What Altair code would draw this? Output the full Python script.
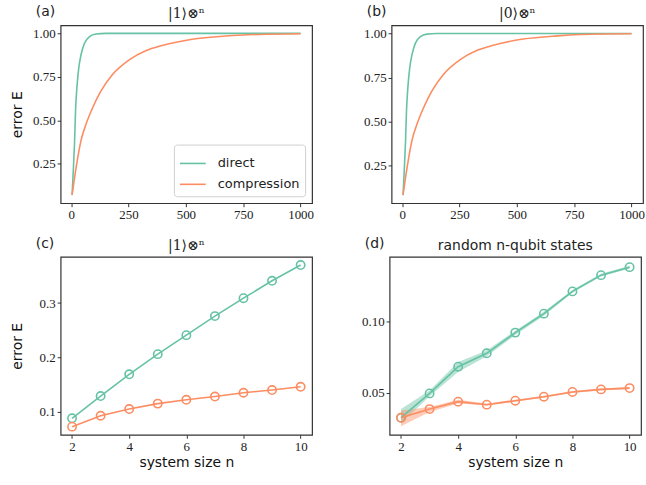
import altair as alt
import pandas as pd

GREEN = "#66c2a5"
ORANGE = "#fc8d62"

# Panel (a): |1>^n, full range
A_n_direct = [4, 10, 15, 19, 25, 33, 43, 58, 80, 108, 151, 1000]
A_E_direct = [0.07, 0.233, 0.385, 0.555, 0.688, 0.80, 0.877, 0.943, 0.981, 0.996, 1.0, 1.0]
A_n_comp = [4, 22, 43, 65, 94, 130, 180, 253, 325, 397, 527, 675, 819, 1000]
A_E_comp = [0.072, 0.233, 0.385, 0.479, 0.574, 0.669, 0.763, 0.848, 0.900, 0.930, 0.966, 0.985, 0.994, 0.998]

# Panel (b): |0>^n, full range
B_n_direct = [4, 10, 15, 19, 25, 33, 43, 58, 80, 108, 151, 1000]
B_E_direct = [0.084, 0.245, 0.395, 0.560, 0.693, 0.804, 0.880, 0.945, 0.982, 0.996, 1.0, 1.0]
B_n_comp = [4, 22, 43, 65, 94, 130, 180, 253, 325, 397, 527, 675, 819, 1000]
B_E_comp = [0.086, 0.245, 0.395, 0.487, 0.581, 0.675, 0.768, 0.852, 0.903, 0.933, 0.968, 0.986, 0.995, 0.998]

# Panels (c), (d): small systems
N_small = [2, 3, 4, 5, 6, 7, 8, 9, 10]
C_direct = [0.088, 0.129, 0.169, 0.206, 0.241, 0.276, 0.309, 0.341, 0.370]
C_comp = [0.0726, 0.0927, 0.105, 0.115, 0.122, 0.128, 0.135, 0.140, 0.146]
D_direct = [0.0325, 0.0495, 0.0682, 0.0776, 0.0921, 0.1054, 0.121, 0.1324, 0.138]
D_direct_lo = [0.0285, 0.0475, 0.0645, 0.0755, 0.0905, 0.104, 0.120, 0.1315, 0.137]
D_direct_hi = [0.0385, 0.0515, 0.0715, 0.0795, 0.0935, 0.1068, 0.122, 0.1333, 0.139]
D_comp = [0.0324, 0.0385, 0.0437, 0.0416, 0.0444, 0.0472, 0.0505, 0.0523, 0.0532]
D_comp_lo = [0.0265, 0.0365, 0.0425, 0.0410, 0.0437, 0.0465, 0.0498, 0.0516, 0.0525]
D_comp_hi = [0.0375, 0.0400, 0.0450, 0.0425, 0.0451, 0.0479, 0.0512, 0.0530, 0.0539]

SERIES = ["direct", "compression"]
W, H = 253, 179
SERIF = "Liberation Serif"
SANS = "DejaVu Sans"


def long_df(pairs):
    rows = []
    for name, xs, ys in pairs:
        for x, y in zip(xs, ys):
            rows.append({"n": x, "E": y, "series": name})
    return pd.DataFrame(rows)


def panel(df, title, title_font, label, xdom, xticks, ydom, yticks, yfmt,
          ytitle, xtitle, legend, points, interp, band=None):
    color = alt.Color(
        "series:N",
        scale=alt.Scale(domain=SERIES, range=[GREEN, ORANGE]),
        sort=SERIES,
        legend=legend,
        title=None,
    )
    x = alt.X(
        "n:Q",
        scale=alt.Scale(domain=xdom, nice=False, zero=False),
        axis=alt.Axis(values=xticks, format="d", title=xtitle),
    )
    y = alt.Y(
        "E:Q",
        scale=alt.Scale(domain=ydom, nice=False, zero=False),
        axis=alt.Axis(values=yticks, format=yfmt, title=ytitle,
                      minExtent=34, maxExtent=34),
    )
    layers = []
    if band is not None:
        layers.append(
            alt.Chart(band).mark_area(opacity=0.45).encode(
                x=alt.X("n:Q", scale=alt.Scale(domain=xdom, nice=False, zero=False)),
                y=alt.Y("lo:Q"),
                y2="hi:Q",
                color=color,
            )
        )
    line = alt.Chart(df).mark_line(strokeWidth=1.6, interpolate=interp).encode(
        x=x, y=y, color=color, detail="series:N"
    )
    layers.append(line)
    if points:
        layers.append(
            alt.Chart(df).mark_point(shape="circle", filled=False, size=70,
                                     strokeWidth=1.6, opacity=1).encode(
                x="n:Q", y="E:Q", color=color
            )
        )
    lab = alt.Chart(pd.DataFrame({"t": [label]})).mark_text(
        font=SANS, fontSize=14, align="left", baseline="middle", color="#222"
    ).encode(text="t:N", x=alt.value(-25), y=alt.value(-13))
    layers.append(lab)
    ttl = alt.Chart(pd.DataFrame({"t": [title]})).mark_text(
        font=title_font, fontSize=14, align="center", baseline="middle", color="#222"
    ).encode(text="t:N", x=alt.value(W / 2), y=alt.value(-11))
    layers.append(ttl)
    return alt.layer(*layers).properties(width=W, height=H)


legend_a = alt.Legend(
    orient="bottom-right", offset=7, symbolType="M-1,0H1", symbolSize=676,
    symbolStrokeWidth=1.6, labelFont=SANS, labelFontSize=13, labelColor="#222",
    strokeColor="#d0d0d0", fillColor="white", cornerRadius=3, padding=5,
    rowPadding=-2, labelOffset=11, title=None,
)

df_a = long_df([("direct", A_n_direct, A_E_direct), ("compression", A_n_comp, A_E_comp)])
df_b = long_df([("direct", B_n_direct, B_E_direct), ("compression", B_n_comp, B_E_comp)])
df_c = long_df([("direct", N_small, C_direct), ("compression", N_small, C_comp)])
df_d = long_df([("direct", N_small, D_direct), ("compression", N_small, D_comp)])
band_rows = []
for name, lo, hi in [("direct", D_direct_lo, D_direct_hi), ("compression", D_comp_lo, D_comp_hi)]:
    for n, l, h in zip(N_small, lo, hi):
        band_rows.append({"n": n, "lo": l, "hi": h, "series": name})
band_d = pd.DataFrame(band_rows)

big_x = [-46, 1050]
big_xt = [0, 250, 500, 750, 1000]
small_x = [1.6, 10.4]
small_xt = [2, 4, 6, 8, 10]

pa = panel(df_a, "|1⟩⊗ⁿ", "DejaVu Serif", "(a)", big_x, big_xt, [0.0235, 1.0465],
           [0.25, 0.5, 0.75, 1.0], ".2f", "error E", None, legend_a, False, "monotone")
pb = panel(df_b, "|0⟩⊗ⁿ", "DejaVu Serif", "(b)", big_x, big_xt, [0.039, 1.046],
           [0.25, 0.5, 0.75, 1.0], ".2f", None, None, None, False, "monotone")
pc = panel(df_c, "|1⟩⊗ⁿ", "DejaVu Serif", "(c)", small_x, small_xt, [0.0577, 0.385],
           [0.1, 0.2, 0.3], ".1f", "error E", "system size n", None, True, "linear")
pd_ = panel(df_d, "random n-qubit states", SANS, "(d)", small_x, small_xt, [0.0205, 0.1452],
            [0.05, 0.10], ".2f", None, "system size n", None, True, "linear", band=band_d)

top = alt.hconcat(pa, pb, spacing=42).resolve_scale(color="independent")
bottom = alt.hconcat(pc, pd_, spacing=42).resolve_scale(color="independent")

chart = alt.vconcat(top, bottom, spacing=13).resolve_scale(color="independent").properties(
    padding={"left": 10, "top": 3, "right": 0, "bottom": 0},
    background="white",
).configure_view(
    stroke="#333", strokeWidth=1.2
).configure_axis(
    domain=False, grid=False, tickColor="#333", tickSize=3.5, tickWidth=1,
    labelFont=SERIF, labelFontSize=13, labelColor="#222", labelPadding=2,
    titleFont=SANS, titleFontSize=14, titleFontWeight="normal", titleColor="#111",
    titlePadding=2,
)

chart.save("out.html", embed_options={"renderer": "svg", "actions": False})
